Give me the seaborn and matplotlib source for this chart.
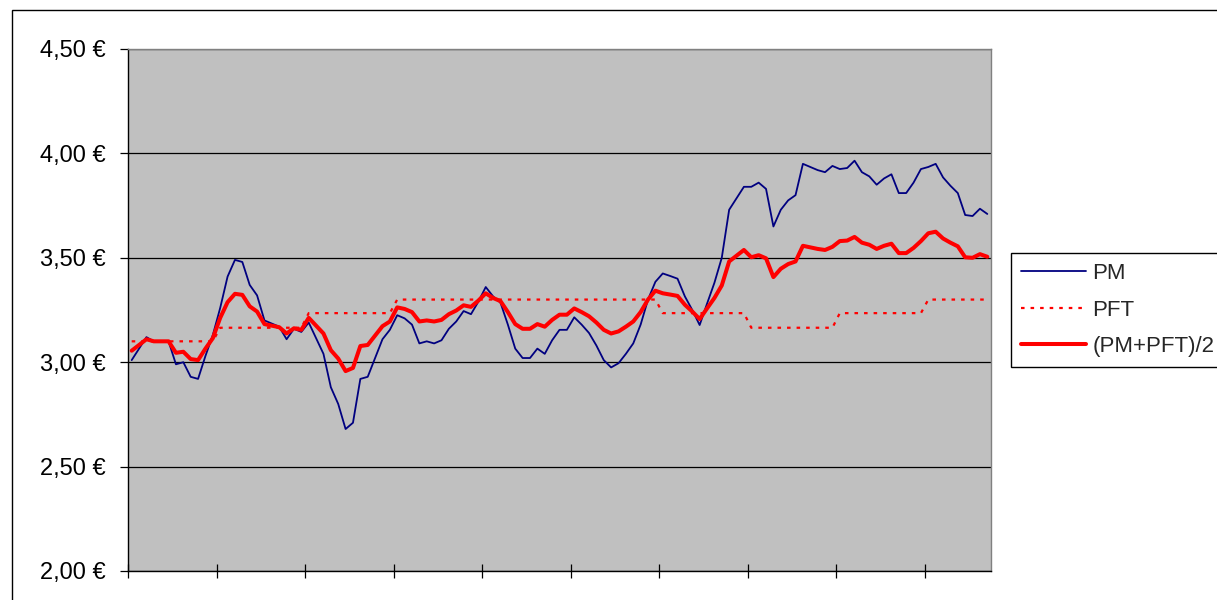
import matplotlib
matplotlib.use("Agg")
import matplotlib.pyplot as plt
from matplotlib.patches import Rectangle
import seaborn as sns
import pandas as pd

# ---------------- data ----------------
PM = [3.01, 3.065, 3.12, 3.10, 3.10, 3.10, 2.99, 3.00, 2.93, 2.92,
      3.03, 3.13, 3.26, 3.41, 3.49, 3.48, 3.37, 3.32, 3.20, 3.185,
      3.17, 3.11, 3.16, 3.145, 3.19, 3.115, 3.04, 2.88, 2.80, 2.68,
      2.71, 2.92, 2.93, 3.02, 3.11, 3.155, 3.225, 3.21, 3.18, 3.09,
      3.10, 3.09, 3.105, 3.16, 3.195, 3.245, 3.23, 3.29, 3.36, 3.315,
      3.285, 3.18, 3.065, 3.02, 3.02, 3.065, 3.04, 3.105, 3.155, 3.155,
      3.215, 3.18, 3.14, 3.08, 3.01, 2.975, 2.995, 3.04, 3.09, 3.18,
      3.30, 3.385, 3.425, 3.413, 3.40, 3.315, 3.25, 3.178, 3.28, 3.38,
      3.50, 3.73, 3.785, 3.84, 3.84, 3.86, 3.83, 3.65, 3.73, 3.775,
      3.80, 3.95, 3.935, 3.92, 3.91, 3.94, 3.925, 3.93, 3.965, 3.91,
      3.89, 3.85, 3.88, 3.90, 3.81, 3.81, 3.86, 3.925, 3.935, 3.95,
      3.885, 3.845, 3.81, 3.705, 3.70, 3.735, 3.71]

PFT = ([3.10] * 12 + [3.165] * 12 + [3.235] * 12 + [3.30] * 36 +
       [3.235] * 12 + [3.165] * 12 + [3.235] * 12 + [3.30] * 9)

AVG = [3.055, 3.0825, 3.11, 3.10, 3.10, 3.10, 3.045, 3.05, 3.015, 3.01,
       3.065, 3.115, 3.2125, 3.2875, 3.3275, 3.3225, 3.2675, 3.2425, 3.1825, 3.175,
       3.1675, 3.1375, 3.1625, 3.155, 3.2125, 3.175, 3.1375, 3.0575, 3.0175, 2.9575,
       2.9725, 3.0775, 3.0825, 3.1275, 3.1725, 3.195, 3.2625, 3.255, 3.24, 3.195,
       3.20, 3.195, 3.2025, 3.23, 3.2475, 3.2725, 3.265, 3.295, 3.33, 3.3075,
       3.2925, 3.24, 3.1825, 3.16, 3.16, 3.1825, 3.17, 3.2025, 3.2275, 3.2275,
       3.2575, 3.24, 3.22, 3.19, 3.155, 3.1375, 3.1475, 3.17, 3.195, 3.24,
       3.30, 3.3425, 3.33, 3.324, 3.3175, 3.275, 3.2425, 3.2065, 3.2575, 3.3075,
       3.3675, 3.4825, 3.51, 3.5375, 3.5025, 3.5125, 3.4975, 3.4075, 3.4475, 3.47,
       3.4825, 3.5575, 3.55, 3.5425, 3.5375, 3.5525, 3.58, 3.5825, 3.60, 3.5725,
       3.5625, 3.5425, 3.5575, 3.5675, 3.5225, 3.5225, 3.5475, 3.58, 3.6175, 3.625,
       3.5925, 3.5725, 3.555, 3.5025, 3.50, 3.5175, 3.505]

SERIES_NAMES = ["PM", "PFT", "(PM+PFT)/2"]
YTICKS = [2.00, 2.50, 3.00, 3.50, 4.00, 4.50]
YTICK_LABELS = ["2,00 €", "2,50 €", "3,00 €", "3,50 €", "4,00 €", "4,50 €"]
XTICK_EVERY = 12

# ---------------- figure ----------------
sns.set_style("white")
plt.rcParams["font.family"] = ["Liberation Sans", "DejaVu Sans"]

W, H = 1217, 600
fig = plt.figure(figsize=(W / 100, H / 100), dpi=100)
fig.patch.set_facecolor("white")

# chart-area border (cut off on right and bottom in the reference)
fig.add_artist(Rectangle((12 / W, -0.1), 1.2, 1 - 10 / H + 0.1,
                         transform=fig.transFigure, fill=False,
                         edgecolor="#000000", linewidth=1.0))

L, R, T, B = 128, 991, 49, 571
ax = fig.add_axes([L / W, 1 - B / H, (R - L) / W, (B - T) / H])
ax.set_facecolor("#C0C0C0")

n = len(PM)
df = pd.DataFrame({"idx": list(range(n)), "PM": PM, "PFT": PFT, "AVG": AVG})

sns.lineplot(data=df, x="idx", y="PM", ax=ax, color="#000080",
             linewidth=1.3, label=SERIES_NAMES[0], zorder=3)
sns.lineplot(data=df, x="idx", y="PFT", ax=ax, color="#FF0000",
             linewidth=1.6, linestyle=(0, (1.6, 2.7)), label=SERIES_NAMES[1], zorder=4)
sns.lineplot(data=df, x="idx", y="AVG", ax=ax, color="#FF0000",
             linewidth=2.9, label=SERIES_NAMES[2], zorder=5)

ax.set_xlim(-0.5, n - 0.5)
ax.set_ylim(YTICKS[0], YTICKS[-1])
ax.set_xticks([k - 0.5 for k in range(0, n, XTICK_EVERY)])
ax.set_xticklabels([])
ax.set_yticks(YTICKS)
ax.set_yticklabels(YTICK_LABELS, fontsize=17)
ax.set_xlabel("")
ax.set_ylabel("")

ax.grid(True, axis="y", color="#000000", linewidth=0.9)
ax.grid(False, axis="x")
ax.set_axisbelow(True)

ax.tick_params(axis="y", direction="out", length=6, width=0.9, color="#000000",
               pad=10, left=True, labelcolor="#000000")
ax.tick_params(axis="x", direction="inout", length=10, width=0.9, color="#000000",
               bottom=True)

for side in ("top", "right"):
    ax.spines[side].set_color("#808080")
    ax.spines[side].set_linewidth(1.0)
for side in ("left", "bottom"):
    ax.spines[side].set_color("#000000")
    ax.spines[side].set_linewidth(1.0)

leg = ax.legend(loc="upper left", bbox_to_anchor=(1011.5 / W, 1 - 253 / H),
                bbox_transform=fig.transFigure, borderaxespad=0,
                fontsize=16, frameon=True, fancybox=False, shadow=False,
                handlelength=2.9, handletextpad=0.3, borderpad=0.45,
                labelspacing=0.70)
leg.get_frame().set_edgecolor("#000000")
leg.get_frame().set_linewidth(1.0)
leg.get_frame().set_facecolor("white")
leg.get_frame().set_alpha(1)

fig.savefig("out.png", dpi=100, facecolor="white")
